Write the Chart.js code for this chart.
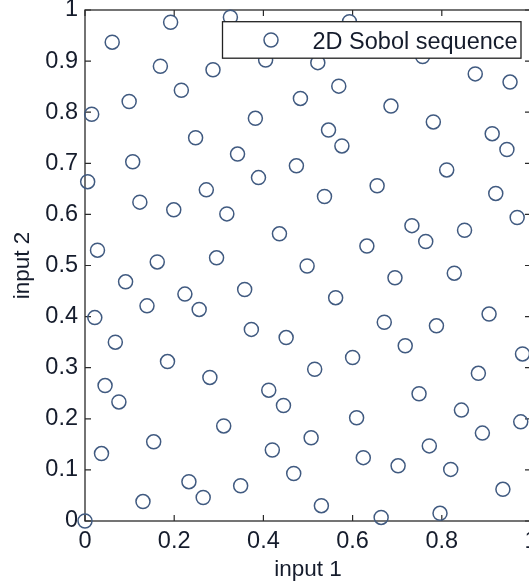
<!DOCTYPE html>
<html><head><meta charset="utf-8">
<script src="https://cdn.jsdelivr.net/npm/chart.js@4.4.0/dist/chart.umd.min.js"></script>
<style>
html,body{margin:0;padding:0;overflow:hidden;background:#fff;width:529px;height:588px}
canvas{display:block}
</style>
</head><body>
<canvas id="c" width="545" height="588"></canvas>
<script>
const seriesLabel = '2D Sobol sequence';
const xTitle = 'input 1';
const yTitle = 'input 2';

const input1 = [
  0.192, 0.061, 0.169, 0.216, 0.099, 0.015, 0.107, 0.006, 0.123, 0.326,
  0.405, 0.522, 0.287, 0.569, 0.483, 0.382, 0.546, 0.576, 0.248, 0.342,
  0.474, 0.389, 0.272, 0.537, 0.593, 0.757, 0.875, 0.953, 0.686, 0.781,
  0.913, 0.946, 0.811, 0.655, 0.921, 0.199, 0.028, 0.162, 0.091, 0.224,
  0.139, 0.022, 0.068, 0.185, 0.045, 0.318, 0.436, 0.295, 0.498, 0.358,
  0.562, 0.256, 0.373, 0.451, 0.515, 0.280, 0.412, 0.969, 0.733, 0.851,
  0.764, 0.632, 0.695, 0.828, 0.671, 0.788, 0.906, 0.718, 0.600, 0.981,
  0.882, 0.749, 0.076, 0.154, 0.037, 0.130, 0.000, 0.445, 0.311, 0.507,
  0.420, 0.468, 0.233, 0.349, 0.265, 0.530, 0.609, 0.844, 0.977, 0.891,
  0.772, 0.624, 0.702, 0.820, 0.937, 0.664, 0.796
];
const input2 = [
  0.976, 0.937, 0.890, 0.843, 0.821, 0.796, 0.703, 0.664, 0.624, 0.986,
  0.902, 0.897, 0.883, 0.851, 0.827, 0.788, 0.765, 0.734, 0.750, 0.718,
  0.695, 0.672, 0.648, 0.635, 0.977, 0.909, 0.875, 0.859, 0.812, 0.781,
  0.758, 0.727, 0.687, 0.656, 0.641, 0.609, 0.530, 0.507, 0.468, 0.444,
  0.421, 0.398, 0.350, 0.312, 0.265, 0.601, 0.562, 0.515, 0.499, 0.453,
  0.437, 0.414, 0.375, 0.359, 0.297, 0.281, 0.256, 0.594, 0.578, 0.569,
  0.547, 0.538, 0.476, 0.485, 0.389, 0.382, 0.405, 0.343, 0.320, 0.327,
  0.289, 0.249, 0.233, 0.155, 0.132, 0.038, 0.000, 0.226, 0.186, 0.163,
  0.139, 0.093, 0.077, 0.069, 0.046, 0.030, 0.202, 0.217, 0.194, 0.172,
  0.147, 0.124, 0.108, 0.101, 0.062, 0.007, 0.015
];

const xTickValues = [0, 0.2, 0.4, 0.6, 0.8, 1];
const xTickLabels = ['0', '0.2', '0.4', '0.6', '0.8', '1'];
const yTickValues = [0, 0.1, 0.2, 0.3, 0.4, 0.5, 0.6, 0.7, 0.8, 0.9, 1];
const yTickLabels = ['0', '0.1', '0.2', '0.3', '0.4', '0.5', '0.6', '0.7', '0.8', '0.9', '1'];

const FONT = '"Liberation Sans", Arial, Helvetica, sans-serif';
const textColor = '#151c2c';
const markerColor = '#405a80';
const axisColor = '#2a2a2a';

const points = input1.map((x, i) => ({x: x, y: input2[i]}));

const framePlugin = {
  id: 'frame',
  beforeDatasetsDraw(chart) {
    const ctx = chart.ctx, a = chart.chartArea;
    const xs = chart.scales.x, ys = chart.scales.y;
    ctx.save();
    ctx.strokeStyle = axisColor;
    ctx.lineWidth = 1.3;
    ctx.strokeRect(a.left, a.top, a.right - a.left, a.bottom - a.top);
    ctx.lineWidth = 1.2;
    const tl = 6;
    ctx.beginPath();
    xs.ticks.forEach(t => {
      const p = xs.getPixelForValue(t.value);
      ctx.moveTo(p, a.bottom); ctx.lineTo(p, a.bottom - tl);
      ctx.moveTo(p, a.top); ctx.lineTo(p, a.top + tl);
    });
    ys.ticks.forEach(t => {
      const p = ys.getPixelForValue(t.value);
      ctx.moveTo(a.left, p); ctx.lineTo(a.left + tl, p);
      ctx.moveTo(a.right, p); ctx.lineTo(a.right - tl, p);
    });
    ctx.stroke();
    ctx.restore();
  }
};

const legendPlugin = {
  id: 'boxLegend',
  afterDatasetsDraw(chart) {
    const ctx = chart.ctx, a = chart.chartArea;
    const ds = chart.data.datasets[0];
    const bw = 298.5, bh = 36.5;
    const bx = a.right - 10 - bw;
    const by = a.top + 11.7;
    ctx.save();
    ctx.fillStyle = '#ffffff';
    ctx.fillRect(bx, by, bw, bh);
    ctx.strokeStyle = '#222';
    ctx.lineWidth = 1.3;
    ctx.strokeRect(bx, by, bw, bh);
    ctx.beginPath();
    ctx.arc(bx + 48.5, by + 18.3, ds.pointRadius, 0, Math.PI * 2);
    ctx.strokeStyle = ds.pointBorderColor;
    ctx.lineWidth = ds.pointBorderWidth;
    ctx.stroke();
    ctx.fillStyle = textColor;
    ctx.font = '23.5px ' + FONT;
    ctx.textBaseline = 'alphabetic';
    ctx.textAlign = 'left';
    ctx.fillText(ds.label, bx + 90, by + 27.5);
    ctx.restore();
  }
};

new Chart(document.getElementById('c').getContext('2d'), {
  type: 'scatter',
  data: {
    datasets: [{
      label: seriesLabel,
      data: points,
      pointStyle: 'circle',
      pointRadius: 7,
      pointHoverRadius: 7,
      pointBorderWidth: 1.5,
      pointBorderColor: markerColor,
      pointBackgroundColor: 'rgba(0,0,0,0)',
      showLine: false,
      clip: false
    }]
  },
  options: {
    responsive: false,
    animation: false,
    devicePixelRatio: 1,
    events: [],
    layout: {padding: {top: 10, right: 14, left: 0, bottom: 0}},
    plugins: {legend: {display: false}, tooltip: {enabled: false}},
    scales: {
      x: {
        type: 'linear', position: 'bottom', min: 0, max: 1,
        grid: {display: false, drawTicks: false},
        border: {display: false},
        afterBuildTicks: s => { s.ticks = xTickValues.map(v => ({value: v})); },
        ticks: {
          callback: (v, i) => xTickLabels[i],
          font: {family: FONT, size: 23.5}, color: textColor,
          padding: 6, maxRotation: 0, minRotation: 0, autoSkip: false
        },
        title: {display: true, text: xTitle, font: {family: FONT, size: 22.5}, color: textColor, padding: {top: 0, bottom: 5}},
        afterFit: s => { s.height = 67; s.paddingLeft = 0; s.paddingRight = 0; }
      },
      y: {
        type: 'linear', position: 'left', min: 0, max: 1,
        grid: {display: false, drawTicks: false},
        border: {display: false},
        afterBuildTicks: s => { s.ticks = yTickValues.map(v => ({value: v})); },
        ticks: {
          callback: (v, i) => yTickLabels[i],
          font: {family: FONT, size: 23.5}, color: textColor,
          padding: 7, autoSkip: false
        },
        title: {display: true, text: yTitle, font: {family: FONT, size: 22.5}, color: textColor, padding: {top: 9, bottom: 0}},
        afterFit: s => { s.width = 85; s.paddingTop = 0; s.paddingBottom = 0; }
      }
    }
  },
  plugins: [framePlugin, legendPlugin]
});
</script>
</body></html>
